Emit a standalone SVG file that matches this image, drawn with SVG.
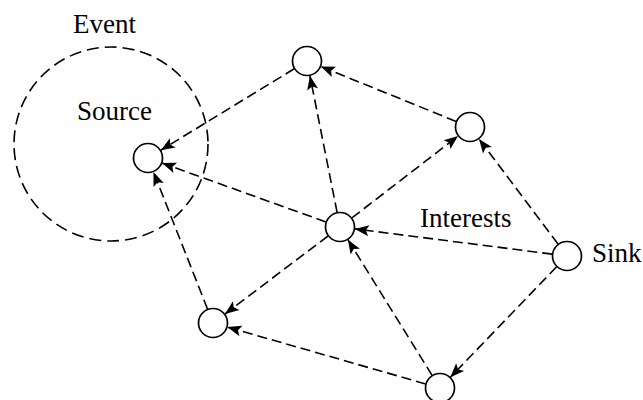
<svg xmlns="http://www.w3.org/2000/svg" width="643" height="400" viewBox="0 0 643 400">
<style>
.node{fill:#fff;stroke:#000;stroke-width:1.7}
.edge{fill:none;stroke:#000;stroke-width:1.6;stroke-dasharray:10,5;marker-end:url(#arr)}
.region{fill:none;stroke:#000;stroke-width:1.6;stroke-dasharray:12,6}
text{font-family:"Liberation Serif","Times New Roman",serif;font-size:27px;fill:#000}
</style>
<defs>
<marker id="arr" markerUnits="userSpaceOnUse" markerWidth="16" markerHeight="14" viewBox="-15 -7 16 14" refX="0" refY="0" orient="auto">
<path d="M0,0 L-14,-5.5 L-11,0 L-14,5.5 Z" fill="#000"/>
</marker>
</defs>
<g id="event-region">
<circle class="region" cx="111" cy="144" r="97"/>
<text x="73" y="33">Event</text>
<text x="77" y="120">Source</text>
</g>
<g id="connectors">
<line class="edge" x1="294.2" y1="68.8" x2="160.8" y2="150.2"/>
<line class="edge" x1="456.1" y1="121.4" x2="320.9" y2="66.6"/>
<line class="edge" x1="337.1" y1="212.3" x2="309.9" y2="75.7"/>
<line class="edge" x1="351.9" y1="217.9" x2="458.1" y2="136.1"/>
<line class="edge" x1="325.9" y1="221.9" x2="162.1" y2="163.1"/>
<line class="edge" x1="328" y1="236" x2="225" y2="314"/>
<line class="edge" x1="207.5" y1="309" x2="153.5" y2="172"/>
<line class="edge" x1="552.1" y1="254.1" x2="354.9" y2="228.9"/>
<line class="edge" x1="558" y1="244" x2="479" y2="139"/>
<line class="edge" x1="556.6" y1="266.8" x2="450.4" y2="377.2"/>
<line class="edge" x1="425.6" y1="383.9" x2="227.4" y2="327.1"/>
<line class="edge" x1="432.1" y1="375.3" x2="347.9" y2="239.7"/>
<text x="420" y="227">Interests</text>
</g>
<g id="source"><circle class="node" cx="148" cy="158" r="14.5"/></g>
<g id="top"><circle class="node" cx="307" cy="61" r="14.5"/></g>
<g id="right-top"><circle class="node" cx="470" cy="127" r="14.5"/></g>
<g id="center"><circle class="node" cx="340" cy="227" r="14.5"/></g>
<g id="sink"><circle class="node" cx="567" cy="256" r="14.5"/><text x="592" y="262">Sink</text></g>
<g id="bottom-left"><circle class="node" cx="213" cy="323" r="14.5"/></g>
<g id="bottom"><circle class="node" cx="440" cy="388" r="14.5"/></g>
</svg>
